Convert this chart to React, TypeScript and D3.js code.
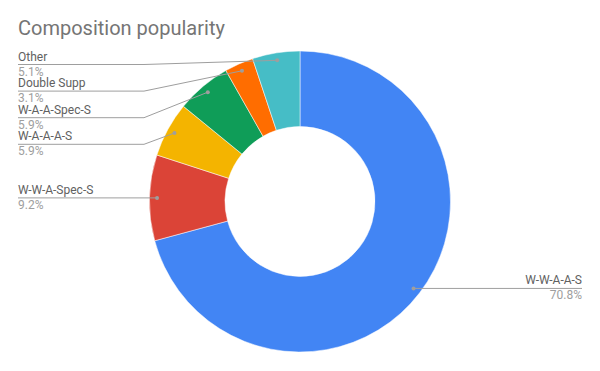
import React from "react";
import * as d3 from "d3";

const categories = ["W-W-A-A-S", "W-W-A-Spec-S", "W-A-A-A-S", "W-A-A-Spec-S", "Double Supp", "Other"];
const shares = [70.8, 9.2, 5.9, 5.9, 3.1, 5.1];
const pctLabels = ["70.8%", "9.2%", "5.9%", "5.9%", "3.1%", "5.1%"];
const colors = ["#4285f4", "#db4437", "#f4b400", "#0f9d58", "#ff6d00", "#46bdc6"];

const width = 600;
const height = 371;
const cx = 300;
const cy = 201.5;
const outerR = 150.5;
const innerR = 75;

export default function App() {
  const pie = d3.pie<number>().sort(null).value(d => d);
  const arcs = pie(shares);
  const arc = d3.arc<d3.PieArcDatum<number>>().innerRadius(innerR).outerRadius(outerR);
  const dotArc = d3.arc<d3.PieArcDatum<number>>().innerRadius(143).outerRadius(143);

  const items = arcs.map((a, i) => {
    const [x, y] = dotArc.centroid(a);
    const mid = (a.startAngle + a.endAngle) / 2;
    return { i, x: cx + x, y: cy + y, left: mid > Math.PI };
  });

  // stack left labels from the top
  const leftItems = items.filter(d => d.left).sort((a, b) => a.y - b.y);
  const lineY: Record<number, number> = {};
  let prev = -Infinity;
  leftItems.forEach(d => {
    const y = Math.max(d.y, 64.5, prev + 26.6);
    lineY[d.i] = y;
    prev = y;
  });
  items.filter(d => !d.left).forEach(d => (lineY[d.i] = d.y));

  return (
    <div style={{ position: "absolute", left: 0, top: 0 }}>
      <svg width={width} height={height} style={{ display: "block", fontFamily: "Roboto, sans-serif" }}>
        <rect width={width} height={height} fill="#fff" />
        <text x={18} y={35} fontSize={20} fill="#757575">Composition popularity</text>
        <g transform={`translate(${cx},${cy})`}>
          {arcs.map((a, i) => (
            <path key={i} d={arc(a) || ""} fill={colors[i]} stroke="#fff" strokeWidth={0.5} />
          ))}
        </g>
        {items.map(d => {
          const ly = lineY[d.i];
          if (d.left) {
            const bend = Math.min(144, d.x);
            const pts: [number, number][] = [[18, ly], [bend, ly], [d.x, d.y]];
            return (
              <g key={d.i}>
                <path d={d3.line()(pts) || ""} fill="none" stroke="#9e9e9e" strokeWidth={1} />
                <circle cx={d.x} cy={d.y} r={2} fill="#9e9e9e" />
                <text x={18} y={ly - 4} fontSize={12} fill="#616161">{categories[d.i]}</text>
                <text x={18} y={ly + 11} fontSize={12} fill="#9e9e9e">{pctLabels[d.i]}</text>
              </g>
            );
          }
          return (
            <g key={d.i}>
              <path d={d3.line()([[d.x, ly], [582, ly]]) || ""} fill="none" stroke="#9e9e9e" strokeWidth={1} />
              <circle cx={d.x} cy={d.y} r={2} fill="#9e9e9e" />
              <text x={582} y={ly - 4} fontSize={12} fill="#616161" textAnchor="end">{categories[d.i]}</text>
              <text x={582} y={ly + 11} fontSize={12} fill="#9e9e9e" textAnchor="end">{pctLabels[d.i]}</text>
            </g>
          );
        })}
      </svg>
    </div>
  );
}
